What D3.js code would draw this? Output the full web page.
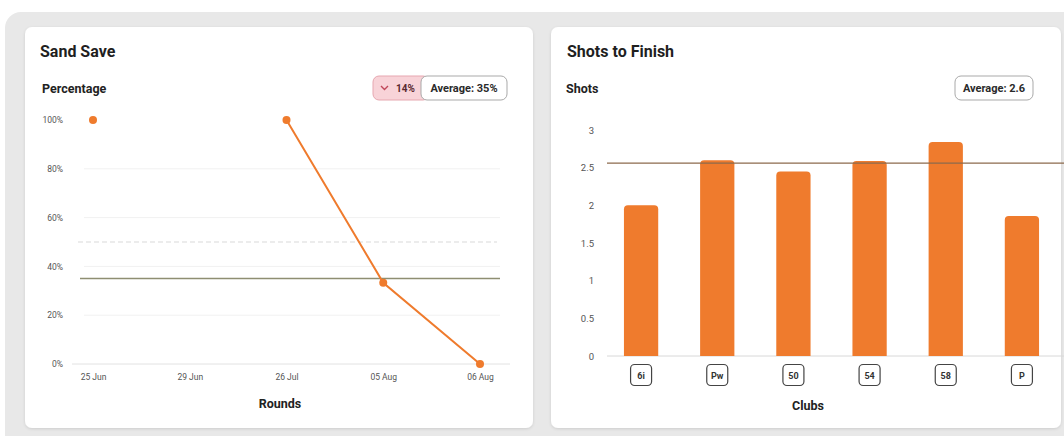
<!DOCTYPE html>
<meta charset="utf-8">
<style>
  body { margin: 0; background: #fff; font-family: Roboto, "Noto Sans", sans-serif; }
  svg { display: block; }
</style>
<body>
<div id="chart"></div>
<script src="https://d3js.org/d3.v7.min.js"></script>
<script>
// ---- data ----
var rounds = ["25 Jun", "29 Jun", "26 Jul", "05 Aug", "06 Aug"];
var sandSave = [100, null, 100, 33.3, 0];     // percentage per round
var sandTicks = [0, 20, 40, 60, 80, 100];
var sandAvg = 35;
var sandChange = 14;

var clubs = ["6i", "Pw", "50", "54", "58", "P"];
var shots = [2.0, 2.6, 2.45, 2.59, 2.84, 1.86];
var shotTicks = [0, 0.5, 1, 1.5, 2, 2.5, 3];
var shotAvg = 2.56;

var orange = "#ef7b2d";

var svg = d3.select("#chart").append("svg")
    .attr("width", 1064)
    .attr("height", 436);

// outer gray frame
svg.append("rect")
    .attr("x", 5).attr("y", 12)
    .attr("width", 1100).attr("height", 460)
    .attr("rx", 16)
    .attr("fill", "#e8e8e8");

// cards
var shadow = svg.append("defs").append("filter").attr("id", "sh")
    .attr("x", "-5%").attr("y", "-5%").attr("width", "110%").attr("height", "110%");
shadow.append("feDropShadow").attr("dx", 0).attr("dy", 1).attr("stdDeviation", 1.5)
    .attr("flood-color", "#000").attr("flood-opacity", 0.12);

[[25, 508], [551, 510]].forEach(function(c) {
  svg.append("rect")
      .attr("x", c[0]).attr("y", 27)
      .attr("width", c[1]).attr("height", 401)
      .attr("rx", 7)
      .attr("fill", "#fff")
      .attr("filter", "url(#sh)");
});

function badge(g, x, y, w, label) {
  g.append("rect")
      .attr("x", x).attr("y", y).attr("width", w).attr("height", 24)
      .attr("rx", 6)
      .attr("fill", "#fff").attr("stroke", "#a9a9a9").attr("stroke-width", 1);
  g.append("text")
      .attr("x", x + w / 2).attr("y", y + 16)
      .attr("text-anchor", "middle")
      .attr("font-size", "11px").attr("font-weight", 700).attr("fill", "#2a2a2a")
      .text(label);
}

// ================= Sand Save =================
var g1 = svg.append("g");

g1.append("text").attr("x", 40).attr("y", 57)
    .attr("font-size", "16px").attr("font-weight", 700).attr("fill", "#1f1f1f")
    .text("Sand Save");
g1.append("text").attr("x", 42).attr("y", 93)
    .attr("font-size", "12.5px").attr("font-weight", 700).attr("fill", "#222")
    .text("Percentage");

// change badge
g1.append("rect")
    .attr("x", 373).attr("y", 76).attr("width", 56).attr("height", 24)
    .attr("rx", 6)
    .attr("fill", "#f8d3d8").attr("stroke", "#e6a7b0");
g1.append("path")
    .attr("d", "M381,86 l3.5,3.5 l3.5,-3.5")
    .attr("fill", "none").attr("stroke", "#c0485a").attr("stroke-width", 1.4);
g1.append("text").attr("x", 396).attr("y", 92)
    .attr("font-size", "10px").attr("font-weight", 700).attr("fill", "#5a2a30")
    .text(sandChange + "%");
badge(g1, 421, 76, 86, "Average: " + sandAvg + "%");

var x1 = d3.scalePoint().domain(rounds).range([93, 480]);
var y1 = d3.scaleLinear().domain([0, 100]).range([364, 120]);

// faint grid
g1.selectAll(".grid")
    .data(sandTicks.filter(function(d) { return d > 0 && d < 100; }))
  .enter().append("line")
    .attr("x1", 84).attr("x2", 500)
    .attr("y1", function(d) { return y1(d); })
    .attr("y2", function(d) { return y1(d); })
    .attr("stroke", "#f1f1f1");

// baseline
g1.append("line")
    .attr("x1", 72).attr("x2", 510)
    .attr("y1", y1(0)).attr("y2", y1(0))
    .attr("stroke", "#e2e2e2");

// 50% dashed reference
g1.append("line")
    .attr("x1", 78).attr("x2", 497)
    .attr("y1", y1(50)).attr("y2", y1(50))
    .attr("stroke", "#d9d9d9").attr("stroke-dasharray", "5,3");

// average
g1.append("line")
    .attr("x1", 80).attr("x2", 500)
    .attr("y1", y1(sandAvg)).attr("y2", y1(sandAvg))
    .attr("stroke", "#8e8e72").attr("stroke-width", 1.5);

// y axis
var yAx1 = g1.append("g")
    .attr("transform", "translate(63,0)")
    .call(d3.axisLeft(y1).tickValues(sandTicks).tickSize(0).tickPadding(0)
      .tickFormat(function(d) { return d + "%"; }));
yAx1.select(".domain").remove();
yAx1.selectAll("text").attr("font-size", "8.5px").attr("fill", "#555").attr("font-family", "Roboto");

// x axis
var xAx1 = g1.append("g")
    .attr("transform", "translate(0," + (y1(0) + 1) + ")")
    .call(d3.axisBottom(x1).tickSize(0).tickPadding(9));
xAx1.select(".domain").remove();
xAx1.selectAll("text").attr("font-size", "8.5px").attr("fill", "#555").attr("font-family", "Roboto");

g1.append("text").attr("x", 280).attr("y", 408)
    .attr("text-anchor", "middle")
    .attr("font-size", "12.5px").attr("font-weight", 700).attr("fill", "#222")
    .text("Rounds");

var pts = rounds.map(function(r, i) { return {r: r, v: sandSave[i]}; });
var line1 = d3.line()
    .defined(function(d) { return d.v !== null; })
    .x(function(d) { return x1(d.r); })
    .y(function(d) { return y1(d.v); });

g1.append("path")
    .datum(pts)
    .attr("fill", "none")
    .attr("stroke", orange)
    .attr("stroke-width", 2)
    .attr("d", line1);

g1.selectAll(".dot")
    .data(pts.filter(function(d) { return d.v !== null; }))
  .enter().append("circle")
    .attr("cx", function(d) { return x1(d.r); })
    .attr("cy", function(d) { return y1(d.v); })
    .attr("r", 4)
    .attr("fill", orange);

// ================= Shots to Finish =================
var g2 = svg.append("g");

g2.append("text").attr("x", 567).attr("y", 57)
    .attr("font-size", "16px").attr("font-weight", 700).attr("fill", "#1f1f1f")
    .text("Shots to Finish");
g2.append("text").attr("x", 566).attr("y", 93)
    .attr("font-size", "12.5px").attr("font-weight", 700).attr("fill", "#222")
    .text("Shots");
badge(g2, 955, 76, 78, "Average: " + shotAvg.toFixed(1));

var x2 = d3.scaleBand().domain(clubs).range([603, 1060]).paddingInner(0.55).paddingOuter(0.275);
var y2 = d3.scaleLinear().domain([0, 3]).range([356, 130]);

var yAx2 = g2.append("g")
    .attr("transform", "translate(594,0)")
    .call(d3.axisLeft(y2).tickValues(shotTicks).tickSize(0).tickPadding(0)
      .tickFormat(function(d) { return d; }));
yAx2.select(".domain").remove();
yAx2.selectAll("text").attr("font-size", "9.5px").attr("fill", "#555").attr("font-family", "Roboto");

g2.append("line")
    .attr("x1", 607).attr("x2", 1064)
    .attr("y1", y2(0)).attr("y2", y2(0))
    .attr("stroke", "#d8d8d8");

var bw = x2.bandwidth();
g2.selectAll(".bar")
    .data(clubs.map(function(c, i) { return {c: c, v: shots[i]}; }))
  .enter().append("path")
    .attr("fill", orange)
    .attr("d", function(d) {
      var x = x2(d.c), y = y2(d.v), h = y2(0) - y, r = 4;
      return "M" + x + "," + (y + h) + "V" + (y + r) +
        "Q" + x + "," + y + " " + (x + r) + "," + y +
        "H" + (x + bw - r) +
        "Q" + (x + bw) + "," + y + " " + (x + bw) + "," + (y + r) +
        "V" + (y + h) + "Z";
    });

g2.append("line")
    .attr("x1", 607).attr("x2", 1064)
    .attr("y1", y2(shotAvg)).attr("y2", y2(shotAvg))
    .attr("stroke", "#8c6a4c").attr("stroke-width", 1.3);

// club labels in boxes
var cl = g2.selectAll(".club")
    .data(clubs)
  .enter().append("g")
    .attr("transform", function(d) { return "translate(" + (x2(d) + bw / 2) + ",375)"; });
cl.append("rect")
    .attr("x", -10.5).attr("y", -10.5).attr("width", 21).attr("height", 21)
    .attr("rx", 4)
    .attr("fill", "#fff").attr("stroke", "#444").attr("stroke-width", 1.2);
cl.append("text")
    .attr("text-anchor", "middle").attr("y", 3.5)
    .attr("font-size", "9px").attr("font-weight", 700).attr("fill", "#333")
    .text(function(d) { return d; });

g2.append("text").attr("x", 808).attr("y", 410)
    .attr("text-anchor", "middle")
    .attr("font-size", "12.5px").attr("font-weight", 700).attr("fill", "#222")
    .text("Clubs");
</script>
</body>
